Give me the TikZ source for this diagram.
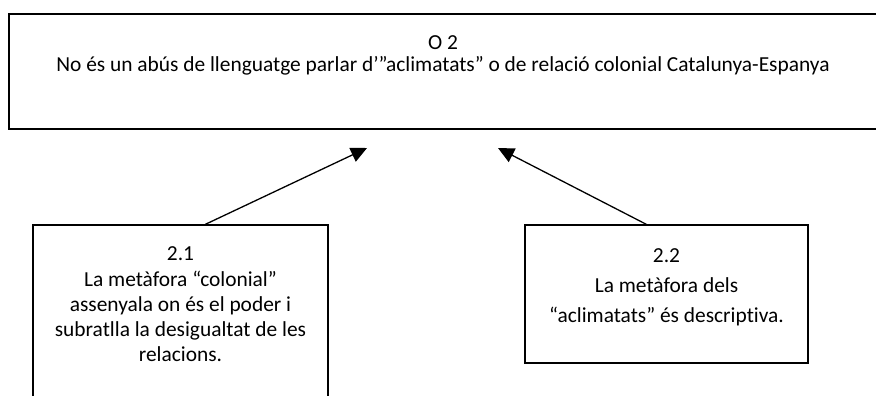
\documentclass[tikz,border=0pt]{standalone}
\usepackage{fontspec}
\setmainfont{Carlito}[Ligatures=NoCommon]
\usetikzlibrary{arrows.meta,calc}
\begin{document}
\begin{tikzpicture}[x=1pt,y=-1pt,
  box/.style={draw=black,line width=1.3pt,inner sep=0pt},
  txt/.style={anchor=base,inner sep=0pt,font=\fontsize{21.4}{25}\selectfont},
  conn/.style={line width=1.3pt,-{Triangle[length=16pt,width=15pt]}}]
\useasboundingbox (0,0) rectangle (876,396);
\clip (0,0) rectangle (876,396);
% boxes
\node[box,minimum width=868pt,minimum height=115pt] (b0) at (443,71.5) {};
\node[box,minimum width=295pt,minimum height=205pt] (b1) at (180.5,327.5) {};
\node[box,minimum width=283pt,minimum height=138pt] (b2) at (666.5,294) {};
% texts
\node[txt] (t0a) at (443,50) {O 2};
\node[txt] (t0b) at (443,71) {No és un abús de llenguatge parlar d’”aclimatats” o de relació colonial Catalunya-Espanya};
\node[txt] (t1a) at (180.5,260) {2.1};
\node[txt] (t1b) at (180.5,286) {La metàfora “colonial”};
\node[txt] (t1c) at (180.5,311) {assenyala on és el poder i};
\node[txt] (t1d) at (180.5,336) {subratlla la desigualtat de les};
\node[txt] (t1e) at (180.5,361) {relacions.};
\node[txt] (t2a) at (666.5,262) {2.2};
\node[txt] (t2b) at (666.5,292) {La metàfora dels};
\node[txt] (t2c) at (666.5,322) {“aclimatats” és descriptiva.};
% connectors
\coordinate (e1) at (367,148);
\coordinate (e2) at (498,148);
\draw[conn] ($(b1.north west)+(173,0)$) -- (e1);
\draw[conn] ($(b2.north west)+(122,0)$) -- (e2);
\end{tikzpicture}
\end{document}
